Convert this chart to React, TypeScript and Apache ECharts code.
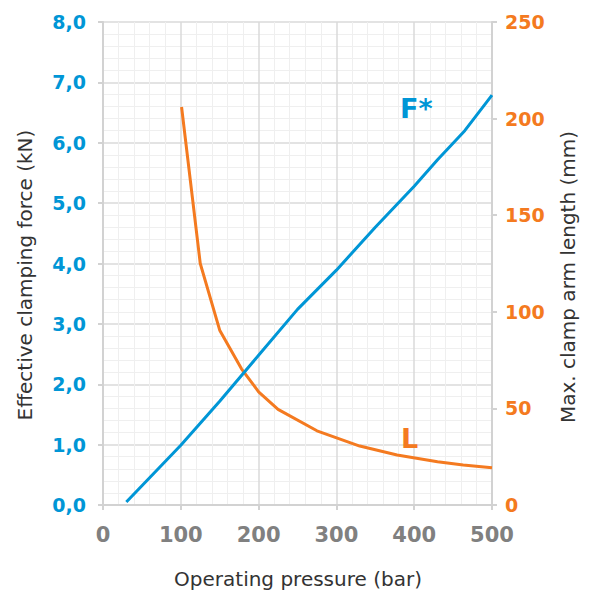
import React, { useEffect, useRef } from "react";
import * as echarts from "echarts";

const forcePressure = [30, 100, 150, 200, 250, 300, 350, 400, 430, 465, 500];
const forceValues = [0.05, 0.99, 1.72, 2.48, 3.24, 3.89, 4.6, 5.28, 5.72, 6.2, 6.79];

const lengthPressure = [101, 125, 150, 178, 200, 225, 275, 330, 378, 430, 463, 500];
const lengthValues = [206, 125, 90.5, 70.5, 58.6, 49.5, 38.4, 30.5, 25.9, 22.4, 20.7, 19.3];

const BLUE = "#0096d6";
const ORANGE = "#f47a20";
const GRAY = "#808080";
const FONT = "DejaVu Sans";

export default function App() {
  const ref = useRef<HTMLDivElement>(null);
  useEffect(() => {
    if (!ref.current) return;
    const chart = echarts.init(ref.current, null, { renderer: "svg" });
    const axisLine = { show: true, lineStyle: { color: "#d2d2d2", width: 2 } };
    const axisTick = { show: true, inside: false, length: 5, lineStyle: { color: "#d2d2d2", width: 2 } };
    chart.setOption({
      animation: false,
      backgroundColor: "#ffffff",
      grid: { left: 103, right: 100, top: 22, bottom: 87, containLabel: false },
      xAxis: {
        type: "value",
        min: 0,
        max: 500,
        interval: 100,
        axisLine,
        axisTick,
        axisLabel: { color: GRAY, fontWeight: "bold", fontSize: 21, fontFamily: FONT, margin: 19 },
        splitLine: { show: true, lineStyle: { color: "#dadada", width: 1.5 } },
        minorTick: { show: false, splitNumber: 5 },
        minorSplitLine: { show: true, lineStyle: { color: "#efefef", width: 1 } },
      },
      yAxis: [
        {
          type: "value",
          min: 0,
          max: 8,
          interval: 1,
          position: "left",
          axisLine,
          axisTick,
          axisLabel: {
            color: BLUE,
            fontWeight: "bold",
            fontSize: 19,
            fontFamily: FONT,
            margin: 17,
            formatter: (v: number) => v.toFixed(1).replace(".", ","),
          },
          splitLine: { show: true, lineStyle: { color: "#dadada", width: 1.5 } },
          minorTick: { show: false, splitNumber: 5 },
          minorSplitLine: { show: true, lineStyle: { color: "#efefef", width: 1 } },
        },
        {
          type: "value",
          min: 0,
          max: 250,
          interval: 50,
          position: "right",
          axisLine,
          axisTick,
          axisLabel: { color: ORANGE, fontWeight: "bold", fontSize: 19, fontFamily: FONT, margin: 13 },
          splitLine: { show: false },
        },
      ],
      series: [
        {
          type: "line",
          name: "F*",
          yAxisIndex: 0,
          data: forcePressure.map((p, i) => [p, forceValues[i]]),
          symbol: "none",
          lineStyle: { color: BLUE, width: 3 },
          z: 3,
        },
        {
          type: "line",
          name: "L",
          yAxisIndex: 1,
          data: lengthPressure.map((p, i) => [p, lengthValues[i]]),
          symbol: "none",
          lineStyle: { color: ORANGE, width: 3 },
          z: 2,
        },
      ],
      graphic: [
        {
          type: "text",
          z: 100,
          x: 298,
          y: 579,
          style: {
            text: "Operating pressure (bar)",
            fill: "#333333",
            font: `20px '${FONT}'`,
            align: "center",
            verticalAlign: "middle",
          },
        },
        {
          type: "text",
          z: 100,
          x: 25,
          y: 275,
          rotation: Math.PI / 2,
          style: {
            text: "Effective clamping force (kN)",
            fill: "#333333",
            font: `20px '${FONT}'`,
            align: "center",
            verticalAlign: "middle",
          },
        },
        {
          type: "text",
          z: 100,
          x: 568,
          y: 277,
          rotation: Math.PI / 2,
          style: {
            text: "Max. clamp arm length (mm)",
            fill: "#333333",
            font: `20px '${FONT}'`,
            align: "center",
            verticalAlign: "middle",
          },
        },
        {
          type: "text",
          z: 100,
          x: 400,
          y: 108,
          style: {
            text: "F*",
            fill: BLUE,
            font: `bold 27px '${FONT}'`,
            align: "left",
            verticalAlign: "middle",
          },
        },
        {
          type: "text",
          z: 100,
          x: 401,
          y: 438,
          style: {
            text: "L",
            fill: ORANGE,
            font: `bold 27px '${FONT}'`,
            align: "left",
            verticalAlign: "middle",
          },
        },
      ],
    });
    return () => chart.dispose();
  }, []);
  return <div ref={ref} style={{ width: 592, height: 592, position: "absolute", left: 0, top: 0 }} />;
}
